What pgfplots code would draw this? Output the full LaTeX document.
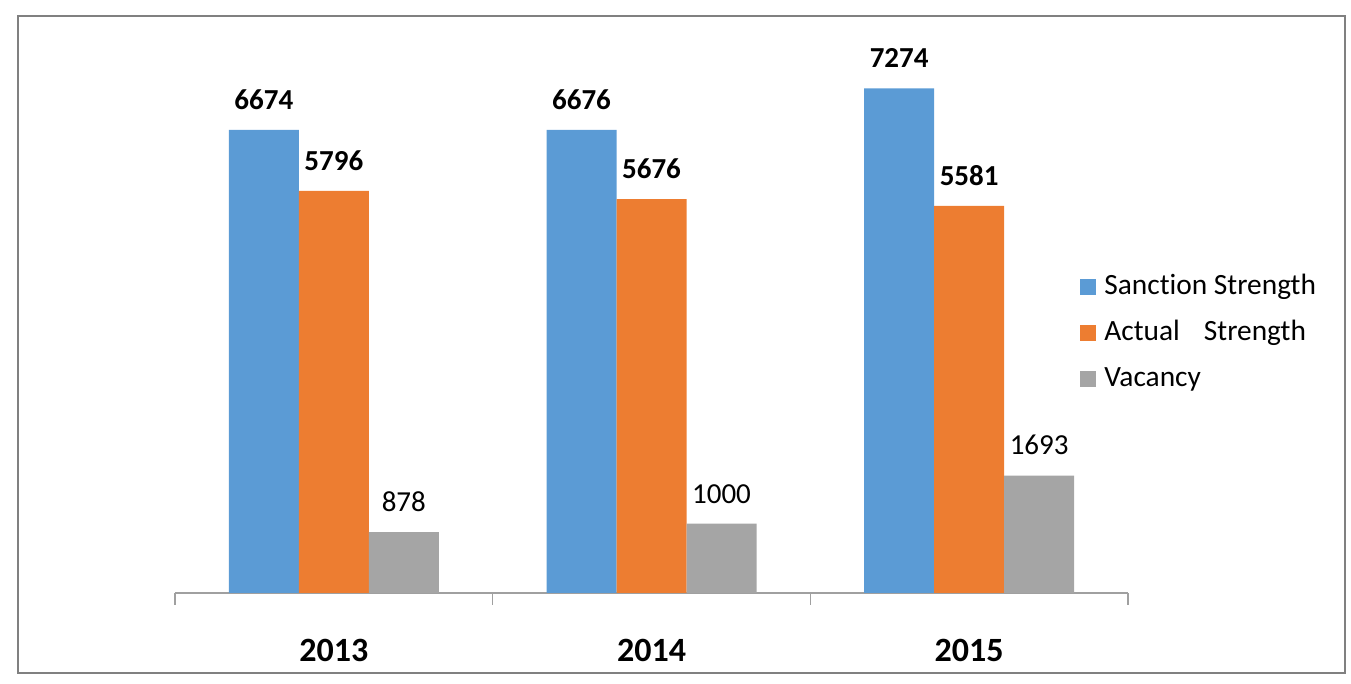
\documentclass[border=0pt]{standalone}
\usepackage{fontspec}
\setmainfont{Carlito}[Ligatures=NoCommon]
\usepackage{pgfplots}
\pgfplotsset{compat=1.18}
\definecolor{sblue}{RGB}{91,155,213}
\definecolor{sorange}{RGB}{237,125,49}
\definecolor{sgrey}{RGB}{165,165,165}
\definecolor{framecol}{RGB}{128,128,128}
\definecolor{axisgrey}{RGB}{160,160,160}
\newcommand{\lbl}{\fontsize{14.5}{17}\selectfont}
\begin{document}
\begin{tikzpicture}
\path[use as bounding box] (-87.5pt,-45.5pt) rectangle (588pt,296.5pt);
\begin{axis}[
  at={(0pt,0pt)}, anchor=south west,
  scale only axis, width=476.5pt, height=277.5pt,
  xmin=-0.5, xmax=2.5, ymin=0, ymax=8000,
  axis x line*=bottom, axis y line=none,
  axis line style={draw=axisgrey, line width=0.8pt},
  tick style={draw=axisgrey, line width=0.8pt},
  ybar=0pt, bar width=35pt,
  xtick={0,1,2}, xticklabels={2013,2014,2015},
  major tick length=0pt,
  xticklabel style={font=\fontsize{17}{20}\selectfont\bfseries, anchor=base, yshift=-34.5pt},
  extra x ticks={-0.5,0.5,1.5,2.5}, extra x tick labels={},
  extra x tick style={major tick length=6pt, tick align=outside},
  /pgf/number format/.cd, 1000 sep={}, assume math mode=true, /pgfplots/.cd,
  legend style={draw=none, fill=none, at={(0.9496,0.582)}, anchor=north west,
    font=\fontsize{14.7}{17}\selectfont, row sep=6pt, inner sep=0pt,
    nodes={inner sep=2pt, inner xsep=4pt, text height=10pt, text depth=3pt},
    cells={anchor=west}},
  legend image code/.code={\fill[#1] (0pt,-4pt) rectangle (8pt,4pt);},
]
\addplot[fill=sblue, draw=none, nodes near coords,
  every node near coord/.append style={font=\lbl\bfseries, anchor=south, inner sep=0pt, yshift=10pt}]
  coordinates {(0,6674) (1,6676) (2,7274)};
\addplot[fill=sorange, draw=none, nodes near coords,
  every node near coord/.append style={font=\lbl\bfseries, anchor=south, inner sep=0pt, yshift=10pt}]
  coordinates {(0,5796) (1,5676) (2,5581)};
\addplot[fill=sgrey, draw=none, nodes near coords,
  every node near coord/.append style={font=\lbl, anchor=south, inner sep=0pt, yshift=10pt}]
  coordinates {(0,878) (1,1000) (2,1693)};
\legend{Sanction Strength, Actual\hspace{12pt}Strength, Vacancy}
\end{axis}
\draw[framecol, line width=1.25pt] (-78.5pt,-40pt) rectangle (585pt,288.5pt);
\end{tikzpicture}
\end{document}
